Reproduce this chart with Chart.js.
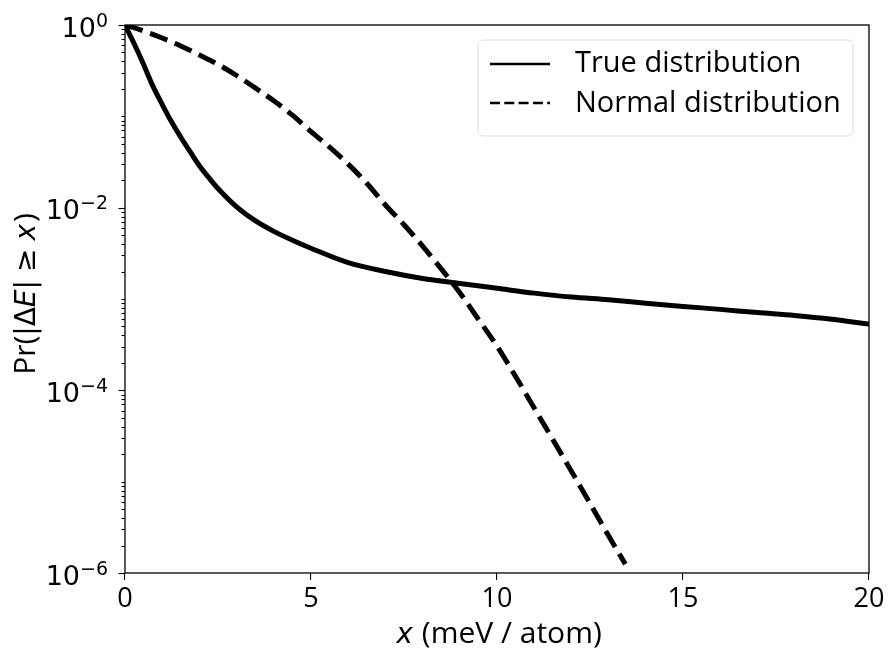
<!DOCTYPE html>
<html>
<head>
<meta charset="utf-8">
<script src="https://cdn.jsdelivr.net/npm/chart.js@4.4.0/dist/chart.umd.min.js"></script>
<style>
  html, body { margin: 0; padding: 0; background: #fff; }
  #wrap { width: 889px; height: 655px; }
</style>
</head>
<body>
<div id="wrap"><canvas id="myChart" width="889" height="655"></canvas></div>
<script>
// values
const trueX = [0, 0.25, 0.5, 0.75, 1, 1.25, 1.5, 1.75, 2, 2.25, 2.5, 3, 3.5, 4, 4.5, 5, 6, 7, 8, 9, 10, 11, 12, 13, 14, 15, 16, 17, 18, 19, 20];
const trueY = [1, 0.62, 0.37, 0.214, 0.135, 0.087, 0.059, 0.041, 0.0288, 0.0214, 0.0162, 0.0102, 0.0072, 0.0055, 0.0044, 0.0036,
               0.0025, 0.0020, 0.00168, 0.00148, 0.00131, 0.00116, 0.00105, 0.00098, 0.0009, 0.00083, 0.00077, 0.00071, 0.00066, 0.0006, 0.00053];

const normalX = [0, 0.5, 1, 1.5, 2, 2.5, 3, 3.5, 4, 4.5, 5, 5.5, 6, 6.5, 7, 7.5, 8, 8.5, 9, 9.5, 10, 10.5, 11, 11.5, 12, 12.5, 13, 13.45];
const normalY = [1, 0.86, 0.72, 0.59, 0.47, 0.37, 0.28, 0.205, 0.148, 0.103, 0.068, 0.046, 0.030, 0.0185, 0.0107, 0.0065,
                 0.0038, 0.00214, 0.00117, 0.0006, 0.000305, 0.000142, 0.000064, 0.000029, 0.000013, 0.0000058, 0.00000255, 0.00000125];

const xTicks = [0, 5, 10, 15, 20];
const yExponents = [0, -2, -4, -6];
const seriesNames = ['True distribution', 'Normal distribution'];

const FONT = '"Open Sans", "DejaVu Sans", sans-serif';
const MATH = '"DejaVu Sans", sans-serif';

function pts(xs, ys) {
    return xs.map((x, i) => ({x: x, y: ys[i]}));
}

// parts: [text, font] or a number (extra gap in px)
function partsWidth(ctx, parts) {
    let w = 0;
    parts.forEach(p => {
        if (typeof p === 'number') { w += p; return; }
        ctx.font = p[1];
        w += ctx.measureText(p[0]).width;
    });
    return w;
}

function drawParts(ctx, parts, cx, baseline) {
    let x = cx - partsWidth(ctx, parts) / 2;
    ctx.fillStyle = '#000';
    ctx.textAlign = 'left';
    ctx.textBaseline = 'alphabetic';
    parts.forEach(p => {
        if (typeof p === 'number') { x += p; return; }
        ctx.font = p[1];
        ctx.fillText(p[0], x, baseline);
        x += ctx.measureText(p[0]).width;
    });
}

// draw frame, y ticks, axis titles and legend
const decorPlugin = {
    id: 'decor',
    afterDraw(chart) {
        const ctx = chart.ctx;
        const area = chart.chartArea;
        const ys = chart.scales.y;
        ctx.save();

        // spines
        ctx.strokeStyle = '#000';
        ctx.lineWidth = 1.3;
        ctx.strokeRect(area.left, area.top, area.right - area.left, area.bottom - area.top);

        // y ticks (major labelled every 2 decades, minor elsewhere)
        ctx.lineWidth = 1.1;
        for (let e = 0; e >= -6; e--) {
            for (let m = 1; m <= 9; m++) {
                const v = m * Math.pow(10, e);
                if (v > 1.0001 || v < 0.99e-6) continue;
                const py = Math.round(ys.getPixelForValue(v)) + 0.5;
                const major = (m === 1 && e % 2 === 0);
                const len = major ? 6.5 : 3.5;
                ctx.beginPath();
                ctx.moveTo(area.left - len, py);
                ctx.lineTo(area.left, py);
                ctx.stroke();
            }
        }

        ctx.fillStyle = '#000';
        yExponents.forEach(e => {
            const py = ys.getPixelForValue(Math.pow(10, e));
            const exp = e === 0 ? '0' : '\u2212' + Math.abs(e);
            ctx.font = '19px ' + MATH;
            ctx.textAlign = 'right';
            ctx.textBaseline = 'alphabetic';
            const ew = ctx.measureText(exp).width;
            ctx.fillText(exp, 108, py + 1.5);
            ctx.font = '27px ' + MATH;
            ctx.fillText('10', 108 - ew, py + 11.5);
        });

        // x axis title: italic x + rest
        const xParts = [['x', 'italic 28px ' + MATH], 9, ['(meV / atom)', '30px ' + FONT]];
        drawParts(ctx, xParts, 499, 643);

        // y axis title, rotated
        ctx.save();
        ctx.translate(35, 294);
        ctx.rotate(-Math.PI / 2);
        const yParts = [['Pr(', '30px ' + FONT], ['|\u0394', '28px ' + MATH], ['E', 'italic 28px ' + MATH],
                        ['|', '28px ' + MATH], 8, ['\u2265', '28px ' + MATH], 8, ['x', 'italic 28px ' + MATH], 2, [')', '30px ' + FONT]];
        drawParts(ctx, yParts, 0, 0);
        ctx.restore();

        // legend
        const lx = 478, ly = 40, lw = 375, lh = 96;
        ctx.beginPath();
        ctx.roundRect(lx, ly, lw, lh, 5);
        ctx.fillStyle = 'rgba(255,255,255,0.8)';
        ctx.fill();
        ctx.strokeStyle = '#dcdcdc';
        ctx.lineWidth = 1;
        ctx.stroke();

        ctx.strokeStyle = '#000';
        ctx.lineWidth = 2.7;
        ctx.lineCap = 'butt';
        ctx.setLineDash([]);
        ctx.beginPath();
        ctx.moveTo(490, 64); ctx.lineTo(550, 64);
        ctx.stroke();
        ctx.setLineDash([10, 4.3]);
        ctx.beginPath();
        ctx.moveTo(490, 103); ctx.lineTo(550, 103);
        ctx.stroke();
        ctx.setLineDash([]);

        ctx.fillStyle = '#000';
        ctx.font = '29px ' + FONT;
        ctx.textAlign = 'left';
        ctx.textBaseline = 'middle';
        ctx.fillText(seriesNames[0], 575, 64);
        ctx.fillText(seriesNames[1], 575, 104);

        ctx.restore();
    }
};

const ctx = document.getElementById('myChart').getContext('2d');
const myChart = new Chart(ctx, {
    type: 'line',
    data: {
        datasets: [{
            label: seriesNames[0],
            data: pts(trueX, trueY),
            borderColor: '#000',
            borderWidth: 5,
            pointRadius: 0,
            cubicInterpolationMode: 'monotone',
            fill: false
        }, {
            label: seriesNames[1],
            data: pts(normalX, normalY),
            borderColor: '#000',
            borderWidth: 5,
            borderDash: [18.5, 8],
            pointRadius: 0,
            cubicInterpolationMode: 'monotone',
            fill: false
        }]
    },
    options: {
        responsive: false,
        animation: false,
        layout: { padding: { left: 125, right: 20, top: 25, bottom: 0 } },
        plugins: {
            legend: { display: false },
            tooltip: { enabled: false }
        },
        scales: {
            x: {
                type: 'linear',
                min: 0,
                max: 20,
                afterBuildTicks(scale) {
                    scale.ticks = xTicks.map(v => ({value: v}));
                },
                afterFit(scale) { scale.height = 82; },
                grid: { display: true, drawOnChartArea: false, drawTicks: true, tickLength: 7, color: '#000', lineWidth: 1.1 },
                border: { display: false },
                ticks: { color: '#000', font: { family: FONT, size: 27 }, padding: 3, maxRotation: 0 }
            },
            y: {
                type: 'logarithmic',
                min: 1e-6,
                max: 1,
                display: false
            }
        }
    },
    plugins: [decorPlugin]
});
</script>
</body>
</html>
